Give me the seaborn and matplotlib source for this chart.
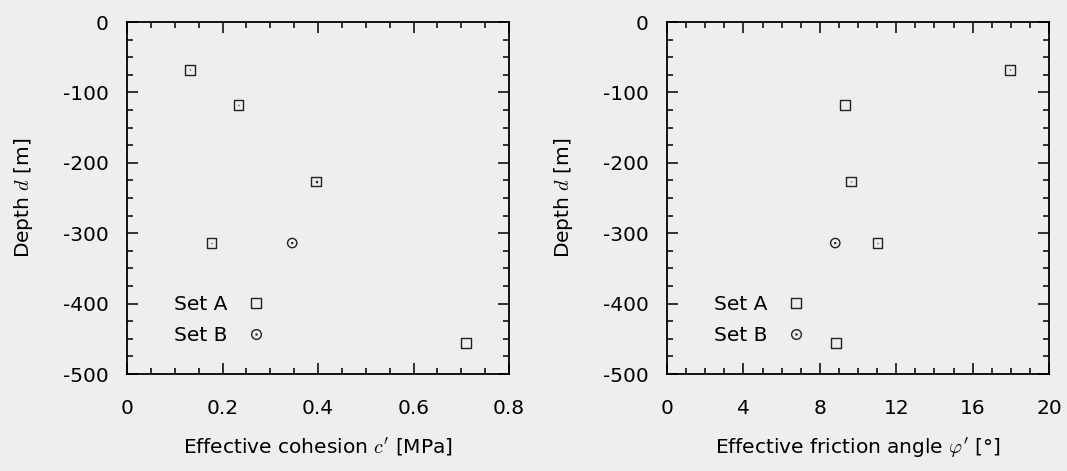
import numpy as np
import pandas as pd
import seaborn as sns
import matplotlib
matplotlib.use("Agg")
import matplotlib.pyplot as plt
from matplotlib.path import Path
from matplotlib.lines import Line2D
from matplotlib.ticker import MultipleLocator, FuncFormatter

# Laboratory results: effective strength parameters against depth
depth_a = [-68, -118, -227, -314, -456]
cohesion_a = [0.132, 0.233, 0.396, 0.177, 0.710]
friction_a = [17.96, 9.32, 9.63, 11.01, 8.85]

depth_b = [-314]
cohesion_b = [0.346]
friction_b = [8.81]

set_names = ["Set A", "Set B"]

df = pd.DataFrame({
    "depth": depth_a + depth_b,
    "cohesion": cohesion_a + cohesion_b,
    "friction": friction_a + friction_b,
    "set": [set_names[0]] * len(depth_a) + [set_names[1]] * len(depth_b),
})

FS = 14.5

sns.set_theme(style="ticks")
plt.rcParams.update({
    "font.family": ["DejaVu Sans"],
    "mathtext.fontset": "cm",
    "font.size": FS,
    "text.color": "black",
    "axes.labelcolor": "black",
    "xtick.color": "black",
    "ytick.color": "black",
    "axes.facecolor": "#eeeeee",
    "figure.facecolor": "#eeeeee",
    "savefig.facecolor": "#eeeeee",
    "axes.edgecolor": "black",
    "axes.linewidth": 1.3,
})


def dotted(outline):
    """Open marker outline with a small dot in the middle."""
    d = 0.09
    dot = Path([(-d, -d), (d, -d), (d, d), (-d, d), (-d, -d)],
               [Path.MOVETO, Path.LINETO, Path.LINETO, Path.LINETO, Path.CLOSEPOLY])
    return Path.make_compound_path(outline, dot)


square = dotted(Path([(-1, -1), (1, -1), (1, 1), (-1, 1), (-1, -1)],
                     [Path.MOVETO, Path.LINETO, Path.LINETO, Path.LINETO, Path.CLOSEPOLY]))
circle = dotted(Path.unit_circle())
markers = {set_names[0]: square, set_names[1]: circle}

fig = plt.figure(figsize=(10.67, 4.71), dpi=100)
ax1 = fig.add_axes([127 / 1067, 97 / 471, 382 / 1067, 352 / 471])
ax2 = fig.add_axes([667 / 1067, 97 / 471, 382 / 1067, 352 / 471])

panels = [
    (ax1, "cohesion", (0, 0.8), 0.2, 0.05, r"Effective cohesion $c'$ [MPa]",
     lambda v, p: "0" if abs(v) < 1e-9 else f"{v:.1f}"),
    (ax2, "friction", (0, 20), 4, 1, r"Effective friction angle $\varphi'$ [°]",
     lambda v, p: f"{v:.0f}"),
]

for ax, col, xlim, xmaj, xmin, xlabel, xfmt in panels:
    sns.scatterplot(data=df, x=col, y="depth", style="set", markers=markers,
                    s=45, color="black", facecolor="none", edgecolor="#222222",
                    linewidth=1.0, legend=False, ax=ax)
    ax.set_xlim(*xlim)
    ax.set_ylim(-500, 0)
    ax.xaxis.set_major_locator(MultipleLocator(xmaj))
    ax.xaxis.set_minor_locator(MultipleLocator(xmin))
    ax.yaxis.set_major_locator(MultipleLocator(100))
    ax.yaxis.set_minor_locator(MultipleLocator(25))
    ax.xaxis.set_major_formatter(FuncFormatter(xfmt))
    ax.yaxis.set_major_formatter(FuncFormatter(lambda v, p: f"{v:.0f}".replace("\u2212", "-")))
    ax.tick_params(which="both", direction="in", top=True, right=True,
                   color="black", width=1.1, labelsize=FS)
    ax.tick_params(which="major", length=8)
    ax.tick_params(which="minor", length=4)
    ax.tick_params(axis="x", which="major", pad=18)
    ax.tick_params(axis="y", which="major", pad=13)
    ax.set_xlabel(xlabel, fontsize=FS, labelpad=13)
    ax.set_ylabel(r"Depth $d$ [m]", fontsize=FS, labelpad=20)
    for s in ax.spines.values():
        s.set_visible(True)

    handles = [Line2D([], [], linestyle="none", marker=markers[n], markersize=7,
                      markerfacecolor="none", markeredgecolor="#222222",
                      markeredgewidth=1.0, label=n) for n in set_names]
    ax.legend(handles=handles, loc="center", bbox_to_anchor=(0.243, 0.153),
              frameon=False, markerfirst=False, fontsize=FS, handlelength=1.0,
              handletextpad=0.9, labelspacing=0.62, borderpad=0)

fig.savefig("out.png", dpi=100)
